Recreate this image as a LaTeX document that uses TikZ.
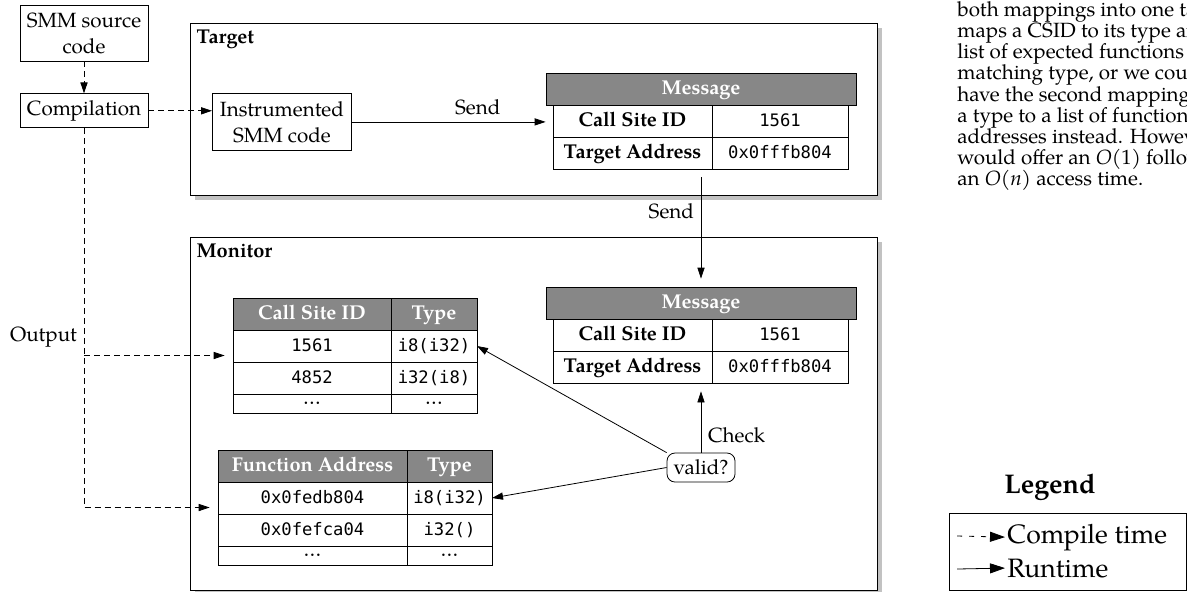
\documentclass[tikz,border=0pt]{standalone}
\usepackage{fontspec}
\setmainfont{TeX Gyre Pagella}
\setmonofont{DejaVu Sans Mono}
\usetikzlibrary{positioning,fit,shadows,arrows.meta}

\definecolor{headgray}{gray}{0.53}
\definecolor{shadowgray}{gray}{0.76}

\tikzstyle{process} = [rectangle, draw=black, fill=white, align=center, inner sep=2pt]
\tikzstyle{panel} = [rectangle, draw=black, fill=white, drop shadow={opacity=1, fill=shadowgray, shadow xshift=2.5pt, shadow yshift=-2.5pt}]
\tikzstyle{cell} = [rectangle, draw=black, fill=white, outer sep=0pt, inner sep=0pt, minimum height=16pt, text height=1.5ex, text depth=.25ex]
\tikzstyle{head} = [cell, fill=headgray, text=white, font=\bfseries]
\tikzstyle{key} = [cell, font=\bfseries]
\tikzstyle{val} = [cell, font=\ttfamily\fontsize{8.6}{10}\selectfont]
\tikzstyle{more} = [cell, minimum height=9.5pt, text height=1pt, text depth=0pt]
\tikzstyle{ctime} = [-{Triangle[length=5.5pt, width=3.6pt]}, dash pattern=on 3pt off 2pt]
\tikzstyle{rtime} = [-{Triangle[length=5.5pt, width=3.6pt]}]
\tikzstyle{legtip} = [-{Triangle[length=7.5pt, width=5pt]}]

\begin{document}
\begin{tikzpicture}[x=0.5pt, y=-0.5pt, font=\fontsize{10.3}{13}\selectfont]

  \useasboundingbox (0,0) rectangle (1187,591);
  \clip (0,0) rectangle (1187,591);

  \node (target) [panel, minimum width=343.5pt, minimum height=86pt] at (533.5,109) {};
  \node (monitor) [panel, minimum width=343.5pt, minimum height=176.5pt] at (533.5,413.5) {};
  \node (targetlabel) [anchor=north west, font=\bfseries] at (target.north west) {Target};
  \node (monitorlabel) [anchor=north west, font=\bfseries] at (monitor.north west) {Monitor};

  \node (src) [process, minimum width=64pt, minimum height=28pt] at (84,33) {SMM source\\code};
  \node (comp) [process, minimum width=64pt, minimum height=17pt, below=16pt of src] {Compilation};
  \node (instr) [process, minimum width=69.5pt, minimum height=28.5pt, anchor=north west] at (212,93) {Instrumented\\SMM code};

  % --- %

  \node (tmsg0) [head, minimum width=155pt, anchor=north] at (701,73) {Message};
  \node (tmsg1a) [key, minimum width=79.5pt, anchor=north west] at (553,105) {Call Site ID};
  \node (tmsg1b) [val, minimum width=68pt, right=0pt of tmsg1a] {1561};
  \node (tmsg2a) [key, minimum width=79.5pt, below=0pt of tmsg1a] {Target Address};
  \node (tmsg2b) [val, minimum width=68pt, right=0pt of tmsg2a] {0x0fffb804};
  \node (tmsg) [fit=(tmsg0)(tmsg2b), inner sep=0pt] {};

  \node (mmsg0) [head, minimum width=155pt, anchor=north] at (701,287) {Message};
  \node (mmsg1a) [key, minimum width=79.5pt, anchor=north west] at (553,319) {Call Site ID};
  \node (mmsg1b) [val, minimum width=68pt, right=0pt of mmsg1a] {1561};
  \node (mmsg2a) [key, minimum width=79.5pt, below=0pt of mmsg1a] {Target Address};
  \node (mmsg2b) [val, minimum width=68pt, right=0pt of mmsg2a] {0x0fffb804};
  \node (mmsg) [fit=(mmsg0)(mmsg2b), inner sep=0pt] {};

  \node (cs0a) [head, minimum width=79pt, anchor=north west] at (233,298) {Call Site ID};
  \node (cs0b) [head, minimum width=43pt, right=0pt of cs0a] {Type};
  \node (cs1a) [val, minimum width=79pt, below=0pt of cs0a] {1561};
  \node (cs1b) [val, minimum width=43pt, right=0pt of cs1a] {i8(i32)};
  \node (cs2a) [val, minimum width=79pt, below=0pt of cs1a] {4852};
  \node (cs2b) [val, minimum width=43pt, right=0pt of cs2a] {i32(i8)};
  \node (cs3a) [more, minimum width=79pt, below=0pt of cs2a] {\dots};
  \node (cs3b) [more, minimum width=43pt, right=0pt of cs3a] {\dots};
  \node (cstab) [fit=(cs0a)(cs3b), inner sep=0pt] {};

  \node (fn0a) [head, minimum width=94.5pt, anchor=north west] at (218,450) {Function Address};
  \node (fn0b) [head, minimum width=42.5pt, right=0pt of fn0a] {Type};
  \node (fn1a) [val, minimum width=94.5pt, below=0pt of fn0a] {0x0fedb804};
  \node (fn1b) [val, minimum width=42.5pt, right=0pt of fn1a] {i8(i32)};
  \node (fn2a) [val, minimum width=94.5pt, below=0pt of fn1a] {0x0fefca04};
  \node (fn2b) [val, minimum width=42.5pt, right=0pt of fn2a] {i32()};
  \node (fn3a) [more, minimum width=94.5pt, below=0pt of fn2a] {\dots};
  \node (fn3b) [more, minimum width=42.5pt, right=0pt of fn3a] {\dots};
  \node (fntab) [fit=(fn0a)(fn3b), inner sep=0pt] {};

  \node (valid) [process, rounded corners=4pt, minimum width=34pt, minimum height=14.5pt] at (701,467.5) {valid?};

  % --- %

  \coordinate (split) at (comp.south |- cstab.west);

  \draw [ctime] (src) -- (comp);
  \draw [ctime] (comp.east) -- (comp.east -| instr.west);
  \draw [rtime] (instr.east) -- node[above, pos=0.65] {Send} (instr.east -| tmsg.west);
  \draw [rtime, shorten <=4pt, shorten >=4pt] (tmsg.south) -- node[left, pos=0.36] {Send} (mmsg.north);
  \draw [rtime, shorten >=4pt] (valid.north) -- node[right, pos=0.25] {Check} (mmsg.south);
  \draw [rtime] (valid.north west) -- (cs1b.east);
  \draw [rtime] (valid.west) -- (fn1b.east);
  \draw [ctime, shorten >=4pt] (comp.south) |- node[left, pos=0.276] {Output} (fntab.west);
  \draw [ctime, shorten >=4pt] (split) -- (cstab.west);

  % --- %

  \node (legend) [font=\bfseries\fontsize{13.5}{16}\selectfont] at (1050,487) {Legend};
  \node (legbox) [draw, minimum width=118.5pt, minimum height=38.5pt, anchor=north west] at (949,513) {};
  \node (legc) [anchor=base west, inner sep=1pt, font=\fontsize{13.3}{16}\selectfont] at (1005,543) {Compile time};
  \node (legr) [anchor=base west, inner sep=1pt, font=\fontsize{13.3}{16}\selectfont] at (1005,577) {Runtime};
  \coordinate (lega) at (957,536);
  \coordinate (legb) at (957,569);
  \draw [legtip, dash pattern=on 2.5pt off 3.5pt] (lega) -- (legc.west);
  \draw [legtip] (legb) -- (legr.west);

  \node (para) [anchor=north west, align=left, inner sep=0pt, font=\fontsize{10.3}{10.6}\selectfont] at (957,1) {both mappings into one table that\\maps a CSID to its type and a\\list of expected functions with a\\matching type, or we could also\\have the second mapping map\\a type to a list of functions\\addresses instead. However, this\\would offer an \textit{O}(1) followed by\\an \textit{O}(\textit{n}) access time.};

\end{tikzpicture}
\end{document}
